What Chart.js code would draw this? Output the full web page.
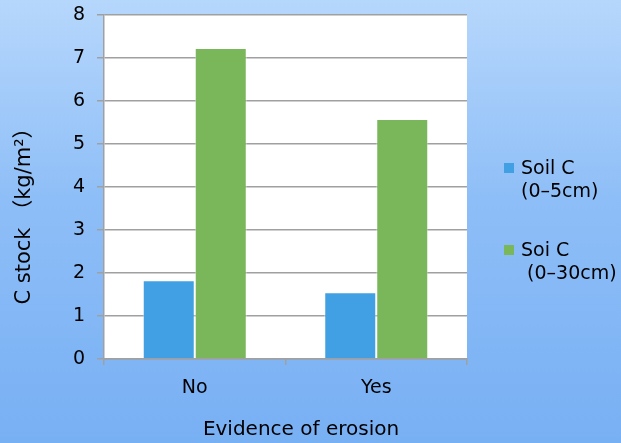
<!DOCTYPE html>
<html><head><meta charset="utf-8">
<script src="https://cdn.jsdelivr.net/npm/chart.js@4"></script>
<style>html,body{margin:0;padding:0;overflow:hidden;background:#fff}</style>
</head><body>
<canvas id="c" width="621" height="443"></canvas>
<script>
const categories = ['No', 'Yes'];
const soilC_0_5 = [1.83, 1.55];
const soilC_0_30 = [7.23, 5.58];
const yTickValues = [0, 1, 2, 3, 4, 5, 6, 7, 8];
const seriesNames = [['Soil C', '(0–5cm)'], ['Soi C', ' (0–30cm)']];
const xTitle = 'Evidence of erosion';
const yTitle = 'C stock （kg/m²）';

const FONT = '"DejaVu Sans", "Noto Sans CJK JP", sans-serif';
const COLORS = ['#419fe3', '#79b75a'];

const bgPlugin = {
  id: 'bg',
  beforeDraw(chart) {
    const {ctx, width, height, chartArea: a} = chart;
    ctx.save();
    const g = ctx.createLinearGradient(0, 0, 0, height);
    g.addColorStop(0, '#b6d7fc');
    g.addColorStop(0.45, '#8ebef7');
    g.addColorStop(1, '#78b0f4');
    ctx.fillStyle = g;
    ctx.fillRect(0, 0, width, height);
    ctx.fillStyle = '#ffffff';
    ctx.fillRect(a.left, a.top, a.right - a.left, a.bottom - a.top);
    ctx.restore();
  },
  afterDraw(chart) {
    const {ctx} = chart;
    ctx.save();
    ctx.fillStyle = '#000';
    ctx.textAlign = 'center';
    ctx.textBaseline = 'middle';
    ctx.font = '20px ' + FONT;
    ctx.fillText(xTitle, 301, 430);
    ctx.save();
    ctx.translate(25, 211);
    ctx.rotate(-Math.PI / 2);
    ctx.font = '21px ' + FONT;
    ctx.fillText(yTitle, 0, 0);
    ctx.restore();
    // legend
    ctx.font = '19px ' + FONT;
    const items = [{y: 168}, {y: 250}];
    chart.data.datasets.forEach((ds, i) => {
      const y0 = items[i].y;
      ctx.fillStyle = ds.backgroundColor;
      ctx.fillRect(504, y0 - 5, 10, 10);
      ctx.fillStyle = '#000';
      ctx.textAlign = 'left';
      seriesNames[i].forEach((line, j) => {
        ctx.fillText(line, 521, y0 + 1 + j * 23.5);
      });
    });
    ctx.restore();
  }
};

new Chart(document.getElementById('c'), {
  type: 'bar',
  data: {
    labels: categories,
    datasets: [
      {label: seriesNames[0].join(' '), data: soilC_0_5, backgroundColor: COLORS[0], borderColor: 'rgba(255,255,255,0.45)', borderWidth: 1},
      {label: seriesNames[1].join(' '), data: soilC_0_30, backgroundColor: COLORS[1], borderColor: 'rgba(255,255,255,0.45)', borderWidth: 1}
    ]
  },
  options: {
    responsive: false,
    animation: false,
    devicePixelRatio: 1,
    layout: {padding: {left: 0, right: 154, top: 15, bottom: 0}},
    datasets: {bar: {categoryPercentage: 0.573, barPercentage: 1}},
    plugins: {legend: {display: false}, tooltip: {enabled: false}},
    scales: {
      x: {
        afterFit(s) { s.height = 84; s.paddingLeft = 0; s.paddingRight = 0; },
        grid: {drawOnChartArea: false, drawTicks: true, tickLength: 6, color: '#a0a0a0', lineWidth: 1.5},
        border: {color: '#a0a0a0', width: 1.5},
        ticks: {color: '#000', font: {family: FONT, size: 19}, padding: 12}
      },
      y: {
        min: 0, max: 8,
        afterFit(s) { s.width = 104; s.paddingTop = 0; s.paddingBottom = 0; },
        afterBuildTicks(s) { s.ticks = yTickValues.map(v => ({value: v})); },
        grid: {color: '#a0a0a0', lineWidth: 1.5, tickLength: 7, drawTicks: true},
        border: {color: '#a0a0a0', width: 1.5},
        ticks: {color: '#000', font: {family: FONT, size: 19}, padding: 12}
      }
    }
  },
  plugins: [bgPlugin]
});
</script>
</body></html>
